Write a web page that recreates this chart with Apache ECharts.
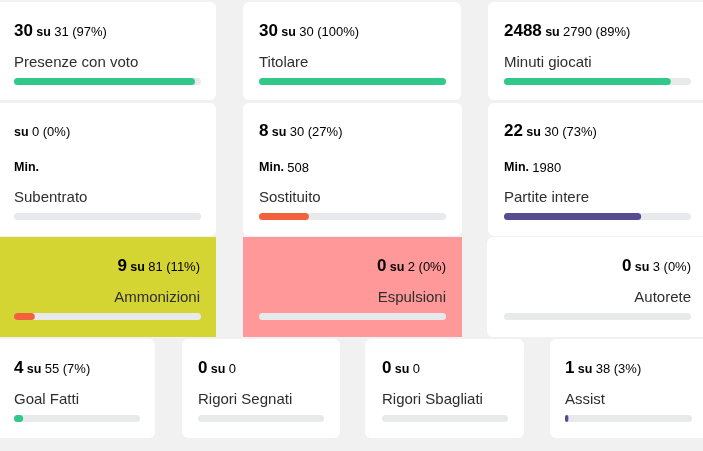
<!DOCTYPE html>
<html><head><meta charset="utf-8">
<script src="https://cdn.jsdelivr.net/npm/echarts@6/dist/echarts.min.js"></script>
<style>html,body{margin:0;padding:0;background:#f1f1f1}#c{width:703px;height:451px}</style>
</head><body><div id="c"></div>
<script>
// ---- data ----
const labels = ['Presenze con voto','Titolare','Minuti giocati','Subentrato','Sostituito','Partite intere','Ammonizioni','Espulsioni','Autorete','Goal Fatti','Rigori Segnati','Rigori Sbagliati','Assist'];
const values = [30, 30, 2488, null, 8, 22, 9, 0, 0, 4, 0, 0, 1];
const totals = [31, 30, 2790, 0, 30, 30, 81, 2, 3, 55, 0, 0, 38];
const percents = ['97%','100%','89%','0%','27%','73%','11%','0%','0%','7%',null,null,'3%'];
const minutes = [null, null, null, '', '508', '1980', null, null, null, null, null, null, null];
const barColors = ['#31c98a','#31c98a','#31c98a','#f2603c','#f2603c','#574b91','#f2603c','#f2603c','#f2603c','#31c98a','#31c98a','#31c98a','#574b91'];

// ---- layout ----
const cards = [
  {x:-10,y:2,w:226,h:98,fill:'#fff',r:6,tx:14,bx:[14,201],row:1},
  {x:243,y:2,w:218,h:98,fill:'#fff',r:6,tx:259,bx:[259,446],row:1},
  {x:488,y:2,w:230,h:98,fill:'#fff',r:6,tx:504,bx:[504,691],row:1},
  {x:-10,y:103,w:226,h:133,fill:'#fff',r:6,tx:14,bx:[14,201],row:2},
  {x:243,y:103,w:219,h:133,fill:'#fff',r:6,tx:259,bx:[259,446],row:2},
  {x:488,y:103,w:230,h:133,fill:'#fff',r:6,tx:504,bx:[504,691],row:2},
  {x:-10,y:237,w:226,h:100,fill:'#d4d433',r:0,tx:200,bx:[14,201],row:3,right:true},
  {x:243,y:237,w:219,h:100,fill:'#ff9898',r:0,tx:446,bx:[259,446],row:3,right:true},
  {x:487,y:237,w:230,h:100,fill:'#fff',r:6,tx:691,bx:[504,691],row:3,right:true},
  {x:-10,y:339,w:165,h:99,fill:'#fff',r:6,tx:14,bx:[14,140],row:4},
  {x:182,y:339,w:158,h:99,fill:'#fff',r:6,tx:198,bx:[198,324],row:4},
  {x:365,y:339,w:159,h:99,fill:'#fff',r:6,tx:382,bx:[382,508],row:4},
  {x:550,y:339,w:170,h:99,fill:'#fff',r:6,tx:565,bx:[565,692],row:4}
];

const FONT = '"Liberation Sans", Arial, sans-serif';
const NAVY = '#33335a';
const rich = {
  n:{fontSize:17,fontWeight:'bold',color:NAVY,fontFamily:FONT,verticalAlign:'bottom'},
  s:{fontSize:12.5,fontWeight:'bold',color:'#3a3a55',fontFamily:FONT,verticalAlign:'bottom',padding:[0,0,1,0]},
  t:{fontSize:13,color:'#3a3a52',fontFamily:FONT,verticalAlign:'bottom',padding:[0,0,1,0]},
  m:{fontSize:12.5,fontWeight:'bold',color:NAVY,fontFamily:FONT,verticalAlign:'bottom'},
  u:{fontSize:13,color:'#3a3a52',fontFamily:FONT,verticalAlign:'bottom'}
};
const DY = 3.5;

const graphic = [];
const grids = [], xAxes = [], yAxes = [], series = [];

cards.forEach((c, i) => {
  graphic.push({type:'rect',shape:{x:c.x,y:c.y,width:c.w,height:c.h,r:c.r},style:{fill:c.fill},silent:true,z:0});
  const align = c.right ? 'right' : 'left';
  let head = '';
  if (values[i] !== null) head += '{n|' + values[i] + '} ';
  head += '{s|su} {t|' + totals[i] + (percents[i] ? ' (' + percents[i] + ')' : '') + '}';
  const numBase = (c.row === 2 ? c.y + 33.5 : c.y + 34.5) + DY;
  graphic.push({type:'text',x:c.tx,y:numBase,style:{text:head,rich:rich,align:align,verticalAlign:'bottom',fontFamily:FONT},z:2,silent:true});
  let labelBase = c.y + 65 + DY;
  if (c.row === 2) {
    graphic.push({type:'text',x:c.tx,y:c.y+68 + DY,style:{text:'{m|Min.}' + (minutes[i] ? ' {u|' + minutes[i] + '}' : ''),rich:rich,align:align,verticalAlign:'bottom'},z:2,silent:true});
    labelBase = c.y + 99 + DY;
  }
  graphic.push({type:'text',x:c.tx,y:labelBase,style:{text:labels[i],fill:'#2e2e2e',font:'15px ' + FONT,align:align,verticalAlign:'bottom'},z:2,silent:true});

  const barTop = c.row === 1 ? 78 : c.row === 2 ? 213 : c.row === 3 ? 313 : 415;
  grids.push({left:c.bx[0],top:barTop,width:c.bx[1]-c.bx[0],height:7,containLabel:false});
  xAxes.push({type:'value',gridIndex:i,min:0,max:totals[i] || 1,show:false});
  yAxes.push({type:'category',gridIndex:i,data:[labels[i]],show:false});
  series.push({type:'bar',xAxisIndex:i,yAxisIndex:i,data:[values[i] || 0],barWidth:7,
    showBackground:true,backgroundStyle:{color:'#e8e9eb',borderRadius:4},
    itemStyle:{color:barColors[i],borderRadius:4},silent:true,animation:false,z:3});
});

const chart = echarts.init(document.getElementById('c'));
chart.setOption({
  backgroundColor:'#f1f1f1',
  animation:false,
  graphic:graphic,
  grid:grids, xAxis:xAxes, yAxis:yAxes, series:series
});
</script></body></html>
